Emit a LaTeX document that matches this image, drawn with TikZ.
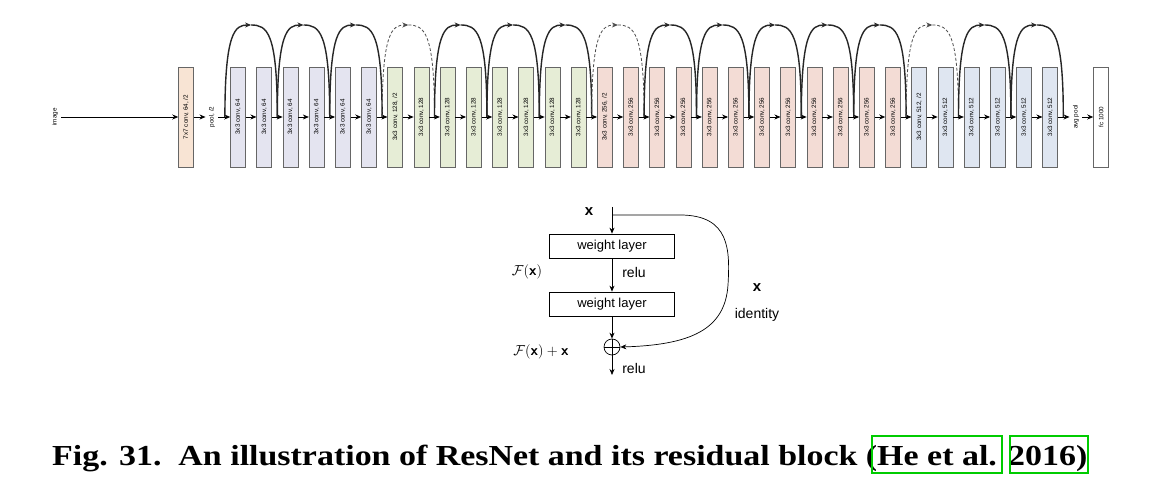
\documentclass[tikz,border=0pt]{standalone}
\usepackage{fontspec}
\setmainfont{Liberation Serif}
\newfontfamily\sansf{Liberation Sans}
\usetikzlibrary{arrows.meta,calc}
\definecolor{cA}{HTML}{E4E4F0}
\definecolor{cB}{HTML}{E6EDD6}
\definecolor{cC}{HTML}{F3DCD5}
\definecolor{cD}{HTML}{DFE6F1}
\definecolor{cO}{HTML}{F8E4D4}
\begin{document}
\begin{tikzpicture}[x=1pt,y=-1pt,>={Stealth[length=6pt,width=5pt]},
  lay/.style={draw=gray!80!black,line width=0.5pt,minimum width=15pt,minimum height=100pt,inner sep=0pt},
  lbl/.style={font=\sansf\fontsize{6.3}{7}\selectfont,rotate=90},
  sk/.style={line width=1.4pt,black!85},
  skd/.style={line width=0.8pt,densely dashed,black!70},
  wl/.style={draw,line width=0.7pt,minimum width=125pt,minimum height=24pt,font=\sansf\fontsize{13}{15}\selectfont},
  tx/.style={font=\sansf\fontsize{14}{16}\selectfont}]
\useasboundingbox (0,0) rectangle (1156,502);
\fill[white] (0,0) rectangle (1156,502);
\node[lbl] (img) at (55,117) {image};
\node[lay,fill=cO] (c0) at (186,117) {};
\node[lbl] at (c0) {7x7 conv, 64, /2};
\node[lbl] (pool) at (212,117) {pool, /2};
\draw[->,line width=0.8pt] (img.south) -- (c0.west);
\draw[->,line width=0.8pt] (c0.east) -- (pool.north);
\foreach \i in {0,...,31}{
  \pgfmathsetmacro{\xx}{238+\i*26.2}
  \ifnum\i<6 \def\cc{cA}\def\tt{3x3 conv, 64}\fi
  \ifnum\i>5 \ifnum\i<14 \def\cc{cB}\def\tt{3x3 conv, 128}\fi\fi
  \ifnum\i=6 \def\tt{3x3 conv, 128, /2}\fi
  \ifnum\i>13 \ifnum\i<26 \def\cc{cC}\def\tt{3x3 conv, 256}\fi\fi
  \ifnum\i=14 \def\tt{3x3 conv, 256, /2}\fi
  \ifnum\i>25 \def\cc{cD}\def\tt{3x3 conv, 512}\fi
  \ifnum\i=26 \def\tt{3x3 conv, 512, /2}\fi
  \node[lay,fill=\cc] (b\i) at (\xx,117) {};
  \node[lbl] at (b\i) {\tt};
}
\foreach \k in {0,...,32}{
  \pgfmathsetmacro{\xx}{238+(\k-0.5)*26.2}
  \coordinate (g\k) at (\xx,117);
  \coordinate (p\k) at (\xx,25);
}
\draw[->,line width=0.8pt] (pool.south) -- (b0.west);
\foreach \i [evaluate=\i as \j using int(\i+1)] in {0,...,30}{
  \draw[->,line width=0.8pt] (b\i.east) -- (b\j.west);
}
\node[lbl] (avg) at (1076,117) {avg pool};
\node[lay,fill=white] (fc) at (1101,117) {};
\node[lbl] at (fc) {fc 1000};
\draw[->,line width=0.8pt] (b31.east) -- (avg.north);
\draw[->,line width=0.8pt] (avg.south) -- (fc.west);
\foreach \a in {0,...,15}{
  \pgfmathtruncatemacro{\s}{2*\a}\pgfmathtruncatemacro{\m}{2*\a+1}\pgfmathtruncatemacro{\e}{2*\a+2}
  \ifnum\a=3 \def\st{skd}\else\ifnum\a=7 \def\st{skd}\else\ifnum\a=13 \def\st{skd}\else\def\st{sk}\fi\fi\fi
  \draw[\st,->] (g\s) .. controls ($(g\s)+(0,-85)$) and ($(p\m)+(-16,0)$) .. (p\m);
  \draw[\st] (p\m) .. controls ($(p\m)+(16,0)$) and ($(g\e)+(0,-85)$) .. (g\e);
}
% residual block
\node[wl] (w1) at (612,246) {weight layer};
\node[wl] (w2) at (612,304) {weight layer};
\node[draw,circle,line width=0.7pt,minimum size=16pt,inner sep=0pt] (add) at (612,347) {};
\draw[line width=0.7pt] (add.north)--(add.south) (add.west)--(add.east);
\coordinate (top) at (612,207);
\coordinate (out) at (612,375);
\node[font=\bfseries\sansf\fontsize{15}{17}\selectfont] (xin) at (589,212) {x};
\draw[->,line width=0.7pt] (top) -- (w1.north);
\draw[->,line width=0.7pt] (w1.south) -- (w2.north);
\draw[->,line width=0.7pt] (w2.south) -- (add.north);
\draw[->,line width=0.7pt] (add.south) -- (out);
\draw[->,line width=0.7pt] (612,215) -- (680,215) .. controls (730,215) and (730,250) .. (728,285) .. controls (725,330) and (690,345) .. (add.east);
\node[tx] at (634,272) {relu};
\node[tx] at (634,368) {relu};
\node[font=\fontsize{15}{17}\selectfont] at (527,272) {$\mathcal{F}(\textsf{\textbf{x}})$};
\node[font=\fontsize{15}{17}\selectfont] at (541,352) {$\mathcal{F}(\textsf{\textbf{x}})+\textsf{\textbf{x}}$};
\node[font=\bfseries\sansf\fontsize{15}{17}\selectfont] at (757,288) {x};
\node[tx] at (757,315) {identity};
% caption
\node[anchor=base west,font=\bfseries\fontsize{29}{32}\selectfont,inner sep=0pt] (cap) at (52,465) {\scalebox{1.17}[1]{Fig. 31.\ \ An illustration of ResNet and its residual block (He et al. 2016)}};
\draw[green!80!black,line width=1.5pt] (872,436) rectangle (1002,473);
\draw[green!80!black,line width=1.5pt] (1010,436) rectangle (1088,473);
\end{tikzpicture}
\end{document}
